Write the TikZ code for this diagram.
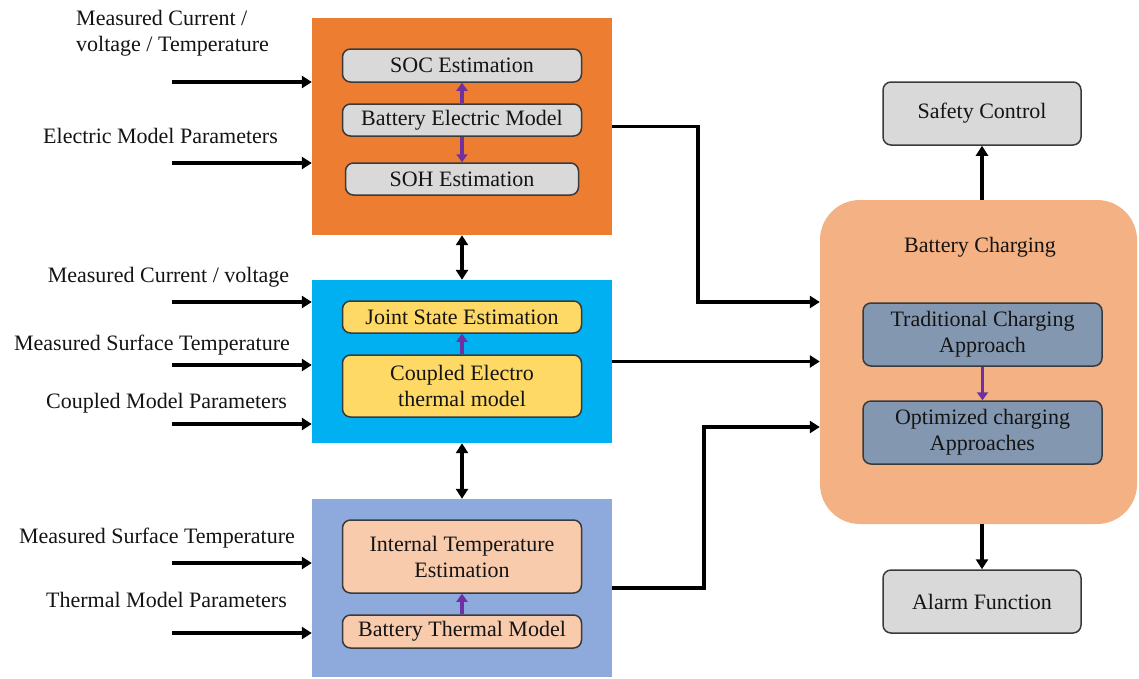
\documentclass[tikz,border=0pt]{standalone}
\usepackage{fontspec}
\setmainfont{Liberation Serif}
\usetikzlibrary{arrows.meta,positioning}
\definecolor{cOrange}{HTML}{ED7D31}
\definecolor{cCyan}{HTML}{00B0F0}
\definecolor{cLav}{HTML}{8EA9DB}
\definecolor{cGray}{HTML}{D9D9D9}
\definecolor{cYellow}{HTML}{FFD966}
\definecolor{cPeach}{HTML}{F8CBAD}
\definecolor{cCharge}{HTML}{F4B183}
\definecolor{cSlate}{HTML}{8497B0}
\definecolor{cPurple}{HTML}{7030A0}
\definecolor{cText}{HTML}{141414}
\definecolor{cEdge}{HTML}{3A3A3A}
\tikzset{
  txt/.style={font=\fontsize{22}{26}\selectfont, text=cText, inner sep=0pt, align=center},
  outer/.style={draw=none, minimum width=300pt, inner sep=0pt},
  inbox/.style={txt, draw=cEdge, line width=1.5pt, rounded corners=8pt, minimum width=239pt},
  arr/.style={draw=black, line width=3.5pt, -{Triangle[length=10pt,width=12pt]}},
  dbl/.style={draw=black, line width=3.5pt, {Triangle[length=10pt,width=12pt]}-{Triangle[length=10pt,width=12pt]}},
  parr/.style={draw=cPurple, line width=3.5pt, -{Triangle[length=8pt,width=11pt]}},
}
\begin{document}
\begin{tikzpicture}[x=1pt,y=-1pt]
\useasboundingbox[fill=white] (0,0) rectangle (1139,678);

% outer blocks
\node[outer, fill=cOrange, minimum height=217pt] (orange) at (462,126.5) {};
\node[outer, fill=cCyan, minimum height=163pt] (blue) at (462,361.5) {};
\node[outer, fill=cLav, minimum height=178pt] (lav) at (462,588) {};

% inner boxes (electric)
\node[inbox, fill=cGray, minimum height=33pt] (soc) at (462,65.5) {SOC Estimation};
\node[inbox, fill=cGray, minimum height=32pt] (bem) at (462,120) {Battery Electric Model};
\node[inbox, fill=cGray, minimum height=32pt, minimum width=233pt] (soh) at (462,179) {SOH Estimation};
% coupled
\node[inbox, fill=cYellow, minimum height=32pt] (jse) at (462,317) {Joint State Estimation};
\node[inbox, fill=cYellow, minimum height=62pt] (cet) at (462,386) {Coupled Electro\\thermal model};
% thermal
\node[inbox, fill=cPeach, minimum height=73pt] (ite) at (462,556.5) {Internal Temperature\\Estimation};
\node[inbox, fill=cPeach, minimum height=33pt] (btm) at (462,631.5) {Battery Thermal Model};

% purple arrows
\draw[parr] (bem.north) -- (soc.south);
\draw[parr] (bem.south) -- (soh.north);
\draw[parr] (cet.north) -- (jse.south);
\draw[parr] (btm.north) -- (ite.south);

% double arrows between blocks
\draw[dbl] (orange.south) -- (blue.north);
\draw[dbl] (blue.south) -- (lav.north);

% left labels
\node[txt, align=left, anchor=west] (l1) at (76,33) {Measured Current /\\voltage / Temperature};
\node[txt] (l2) at (160.5,136) {Electric Model Parameters};
\node[txt] (l3) at (168.5,277) {Measured Current / voltage};
\node[txt] (l4) at (152,345) {Measured Surface Temperature};
\node[txt] (l5) at (166.5,403) {Coupled Model Parameters};
\node[txt] (l6) at (157,538) {Measured Surface Temperature};
\node[txt] (l7) at (166.5,600) {Thermal Model Parameters};

% input arrows
\coordinate (i1) at (172,82);
\coordinate (i2) at (172,163);
\coordinate (i3) at (172,302);
\coordinate (i4) at (172,365);
\coordinate (i5) at (172,424);
\coordinate (i6) at (172,563);
\coordinate (i7) at (172,633);
\draw[arr] (i1) -- (i1 -| orange.west);
\draw[arr] (i2) -- (i2 -| orange.west);
\draw[arr] (i3) -- (i3 -| blue.west);
\draw[arr] (i4) -- (i4 -| blue.west);
\draw[arr] (i5) -- (i5 -| blue.west);
\draw[arr] (i6) -- (i6 -| lav.west);
\draw[arr] (i7) -- (i7 -| lav.west);

% right side
\node[draw=none, fill=cCharge, rounded corners=40pt, minimum width=317pt, minimum height=324pt, inner sep=0pt] (bc) at (978.5,362) {};
\node[txt] (bclabel) at (980,247) {Battery Charging};
\node[inbox, fill=cSlate, minimum height=63pt] (tca) at (982.5,334.5) {Traditional Charging\\Approach};
\node[inbox, fill=cSlate, minimum height=63pt] (oca) at (982.5,432.5) {Optimized charging\\Approaches};
\draw[parr] (tca.south) -- (oca.north);

\node[inbox, fill=cGray, minimum width=198pt, minimum height=63pt] (safety) at (982,113.5) {Safety Control};
\node[inbox, fill=cGray, minimum width=198pt, minimum height=63pt] (alarm) at (982,601.5) {Alarm Function};
\draw[arr] (safety.south |- bc.north) -- (safety.south);
\draw[arr] (alarm.north |- bc.south) -- (alarm.north);

% connectors to battery charging
\coordinate (in1) at (bc.west |- 0,302);
\coordinate (in3) at (bc.west |- 0,427);
\draw[arr] (orange.east) -- ++(86,0) |- (in1);
\draw[arr] (blue.east) -- (blue.east -| bc.west);
\draw[arr] (lav.east) -- ++(92,0) |- (in3);
\end{tikzpicture}
\end{document}
